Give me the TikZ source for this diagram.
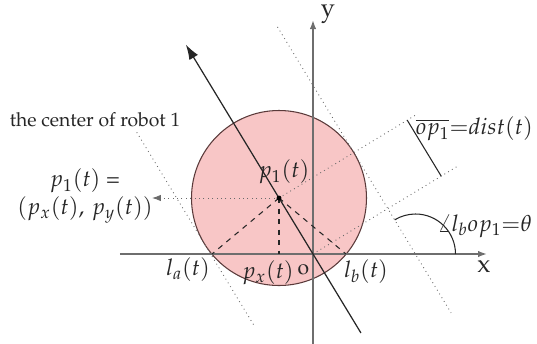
\documentclass[tikz,border=0pt]{standalone}
\usepackage[T1]{fontenc}
\usepackage{mathpazo}
\usetikzlibrary{arrows.meta, positioning, calc}
\definecolor{robotpink}{HTML}{F8C6C6}
\definecolor{rimbrown}{HTML}{5A3A3A}
\definecolor{axisgray}{HTML}{6E6E6E}
\definecolor{inkgray}{HTML}{262626}
\definecolor{guidegray}{HTML}{6A6A6A}

\begin{document}
\begin{tikzpicture}[
  >={Latex[length=1.8mm, width=1.3mm]},
  axisline/.style={axisgray, line width=1pt, ->},
  guide/.style={guidegray, line width=0.5pt, dotted},
  helper/.style={inkgray, line width=0.6pt, dashed},
  lbl/.style={font=\fontsize{13}{16}\selectfont, text=inkgray, inner sep=1pt},
]

% Frame
\useasboundingbox (-6.26,-1.78) rectangle (4.48,5.08);

% Key points
\coordinate (O) at (0,0);
\coordinate (P) at (-0.68,1.12);
\coordinate (La) at (-2.02,0);
\coordinate (Lb) at (0.66,0);
\coordinate (Px) at (-0.68,0);
\coordinate (u) at ($(O)!1cm!(P)$);      % along op1
\coordinate (n) at ($(O)!1cm!-90:(P)$);  % normal to op1

% Robot body
\fill[robotpink] (P) circle (1.75);
\draw[rimbrown, line width=0.6pt] (P) circle (1.75);

% =============================================
% Axes
% =============================================
\coordinate (xstart) at (-3.86,0);
\coordinate (xend) at (3.48,0);
\coordinate (ystart) at (0,-1.8);
\coordinate (yend) at (0,4.68);
\draw[axisline] (xstart) -- (xend);
\draw[axisline] (ystart) -- (yend);
\node[font=\Large, text=inkgray] (xlbl) at (3.42,-0.24) {x};
\node[font=\Large, text=inkgray] (ylbl) at (0.3,4.8) {y};

% =============================================
% Tangent lines parallel to op1
% =============================================
\coordinate (tatop) at ($(P)-1.75*(n)+2.6*(u)$);
\coordinate (tabot) at ($(P)-1.75*(n)-1.95*(u)$);
\coordinate (tbtop) at ($(P)+1.75*(n)+2.94*(u)$);
\coordinate (tbbot) at ($(P)+1.75*(n)-3.75*(u)$);
\draw[guide] (tatop) -- (tabot);
\draw[guide] (tbtop) -- (tbbot);

% Normals through p1 and o
\coordinate (npend) at ($(P)+3.25*(n)$);
\coordinate (noend) at ($(O)+3.4*(n)$);
\draw[guide] (P) -- (npend);
\draw[guide] (O) -- (noend);

% Distance marker
\coordinate (dtop) at ($(P)+3*(n)$);
\coordinate (dbot) at ($(O)+3*(n)$);
\draw[inkgray, line width=0.6pt] (dtop) -- (dbot);

% Direction of op1
\coordinate (dirstart) at ($(O)!-1.41!(P)$);
\coordinate (dirend) at ($(O)!3.74!(P)$);
\draw[inkgray, line width=0.7pt, -{Latex[length=3mm, width=2mm]}] (dirstart) -- (dirend);

% Angle theta
\coordinate (Q) at (2.05,0);
\draw[inkgray, line width=0.6pt] (Q) ++(0.8,0) arc[start angle=0, end angle=121.3, radius=0.8];

% Projections of p1
\draw[helper] (P) -- (La);
\draw[helper] (P) -- (Px);
\draw[helper] (P) -- (Lb);
\coordinate (pleft) at (-3.22,1.12);
\draw[guide, ->] (P) -- (pleft);
\fill[black] (P) circle (1.4pt);

% =============================================
% Labels
% =============================================
\node[lbl] (plbl) at (-0.58,1.64) {$p_1(t)$};
\node[lbl, align=center] (pdef) at (-4.56,1.16) {$p_1(t)$ =\\$(p_x(t),\,p_y(t))$};
\node[font=\fontsize{11}{13}\selectfont, text=inkgray] (center) at (-4.36,2.68) {the center of robot 1};
\node[lbl] (lalbl) at (-2.5,-0.32) {$l_a(t)$};
\node[lbl] (pxlbl) at (-0.9,-0.38) {$p_x(t)$};
\node[font=\large, text=inkgray] (olbl) at (-0.19,-0.32) {o};
\node[lbl] (lblbl) at (1.06,-0.36) {$l_b(t)$};
\node[lbl, anchor=east] (distlbl) at (4.44,2.5) {$\overline{op_1}{=}dist(t)$};
\node[lbl, anchor=east] (anglbl) at (4.42,0.56) {$\angle l_b op_1{=}\theta$};

\end{tikzpicture}
\end{document}
